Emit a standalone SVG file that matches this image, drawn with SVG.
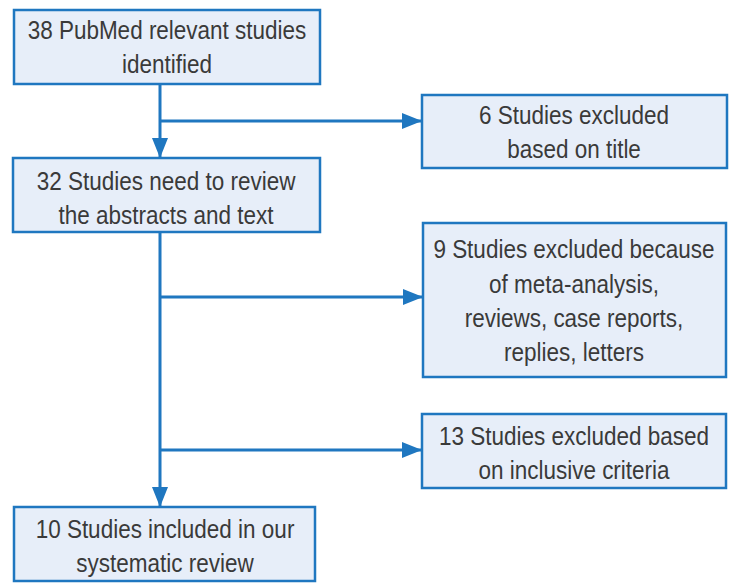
<svg xmlns="http://www.w3.org/2000/svg" width="735" height="588" viewBox="0 0 735 588">
<style>
.box{fill:#e7eef9;stroke:#1f77c0;stroke-width:2.5}
.t{font-family:"Liberation Sans",Arial,sans-serif;font-size:25px;fill:#3a3a3a;text-anchor:middle}
.c{fill:none;stroke:#1f77c0;stroke-width:3}
</style>
<defs>
<marker id="ah" viewBox="0 0 20 16" refX="20" refY="8" markerWidth="20" markerHeight="16" markerUnits="userSpaceOnUse" orient="auto">
<path d="M0,0 L20,8 L0,16 Z" fill="#1f77c0"/>
</marker>
</defs>
<rect width="735" height="588" fill="#ffffff"/>
<g id="connectors">
<line class="c" x1="160" y1="84" x2="160" y2="158" marker-end="url(#ah)"/>
<line class="c" x1="160" y1="121" x2="422" y2="121" marker-end="url(#ah)"/>
<line class="c" x1="160" y1="232" x2="160" y2="507" marker-end="url(#ah)"/>
<line class="c" x1="160" y1="297" x2="423" y2="297" marker-end="url(#ah)"/>
<line class="c" x1="160" y1="450" x2="422" y2="450" marker-end="url(#ah)"/>
</g>
<g id="n1">
<rect class="box" x="14" y="10" width="306" height="74"/>
<text class="t" transform="translate(167,39) scale(0.9,1)">38 PubMed relevant studies</text>
<text class="t" transform="translate(167,73) scale(0.9,1)">identified</text>
</g>
<g id="n2">
<rect class="box" x="422" y="95" width="305" height="73"/>
<text class="t" transform="translate(574,124) scale(0.9,1)">6 Studies excluded</text>
<text class="t" transform="translate(574,158) scale(0.9,1)">based on title</text>
</g>
<g id="n3">
<rect class="box" x="13" y="158" width="307" height="74"/>
<text class="t" transform="translate(166,190) scale(0.9,1)">32 Studies need to review</text>
<text class="t" transform="translate(166,224) scale(0.9,1)">the abstracts and text</text>
</g>
<g id="n4">
<rect class="box" x="423" y="223" width="303" height="154"/>
<text class="t" transform="translate(574,258) scale(0.9,1)">9 Studies excluded because</text>
<text class="t" transform="translate(574,293) scale(0.9,1)">of meta-analysis,</text>
<text class="t" transform="translate(574,327) scale(0.9,1)">reviews, case reports,</text>
<text class="t" transform="translate(574,361) scale(0.9,1)">replies, letters</text>
</g>
<g id="n5">
<rect class="box" x="422" y="414" width="304" height="74"/>
<text class="t" transform="translate(574,445) scale(0.9,1)">13 Studies excluded based</text>
<text class="t" transform="translate(574,479) scale(0.9,1)">on inclusive criteria</text>
</g>
<g id="n6">
<rect class="box" x="14" y="507" width="301" height="74"/>
<text class="t" transform="translate(165,538) scale(0.9,1)">10 Studies included in our</text>
<text class="t" transform="translate(165,572) scale(0.9,1)">systematic review</text>
</g>
</svg>
